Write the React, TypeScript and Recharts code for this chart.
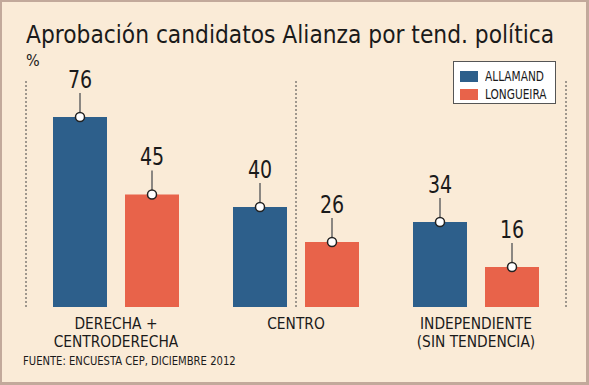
import React from 'react';
import { Bar, BarChart, Legend, ReferenceLine, XAxis, YAxis } from 'recharts';

const categories = ['DERECHA +\nCENTRODERECHA', 'CENTRO', 'INDEPENDIENTE\n(SIN TENDENCIA)'];
const allamand = [76, 40, 34];
const longueira = [45, 26, 16];
const separators = [0, 1, 2, 3];

const data = categories.map((name, i) => ({
  name,
  ALLAMAND: allamand[i],
  LONGUEIRA: longueira[i],
}));

const series = [
  { key: 'ALLAMAND', color: '#2d5f8b' },
  { key: 'LONGUEIRA', color: '#e8634a' },
];

const font = "'DejaVu Sans Condensed', 'DejaVu Sans', sans-serif";
const ink = '#1a1a1a';

// narrow the condensed font a bit more, the original face is tighter
const squeeze = (x: number, y: number, k: number) =>
  `translate(${x},${y}) scale(${k},1) translate(${-x},${-y})`;

const renderValue = (props: any) => {
  const { x, y, width, value } = props;
  const cx = x + width / 2;
  return (
    <g>
      <line x1={cx} y1={y} x2={cx} y2={y - 24} stroke="#666" strokeWidth={1.5} />
      <circle cx={cx} cy={y} r={4.5} fill="#fff" stroke="#222" strokeWidth={1.5} />
      <text
        x={cx}
        y={y - 29}
        textAnchor="middle"
        fontSize={24}
        fontFamily={font}
        fill={ink}
        transform={squeeze(cx, y, 0.88)}
      >
        {value}
      </text>
    </g>
  );
};

const renderTick = (props: any) => {
  const { x, y, payload } = props;
  const lines = String(payload.value).split('\n');
  return (
    <g transform={squeeze(x, y, 0.99)}>
      {lines.map((line, i) => (
        <text
          key={line}
          x={x}
          y={y + 22 + i * 18}
          textAnchor="middle"
          fontSize={15.5}
          fontFamily={font}
          fill={ink}
        >
          {line}
        </text>
      ))}
    </g>
  );
};

const renderLegend = () => (
  <div
    style={{
      width: 103,
      height: 43,
      boxSizing: 'border-box',
      background: '#fff',
      border: '1px solid #555',
      padding: '5px 0 0 6px',
      fontFamily: font,
      fontSize: 14,
      color: ink,
    }}
  >
    {series.map((s) => (
      <div key={s.key} style={{ display: 'flex', alignItems: 'center', height: 18 }}>
        <span style={{ width: 18, height: 11, background: s.color, marginRight: 7, flex: 'none' }} />
        <span style={{ display: 'inline-block', transform: 'scaleX(0.84)', transformOrigin: 'left' }}>
          {s.key}
        </span>
      </div>
    ))}
  </div>
);

export default function App() {
  return (
    <div
      style={{
        position: 'absolute',
        left: 0,
        top: 0,
        width: 589,
        height: 385,
        background: '#faebd7',
        fontFamily: font,
        color: ink,
      }}
    >
      <div
        style={{
          position: 'absolute',
          left: 26,
          top: 21,
          fontSize: 24,
          whiteSpace: 'nowrap',
          transform: 'scaleX(1.01)',
          transformOrigin: 'left',
        }}
      >
        Aprobación candidatos Alianza por tend. política
      </div>
      <div style={{ position: 'absolute', left: 26, top: 51, fontSize: 16 }}>%</div>
      <BarChart
        width={589}
        height={385}
        data={data}
        barSize={54}
        barGap={18}
        margin={{ top: 57, right: 23, bottom: 48, left: 26 }}
      >
        <XAxis
          dataKey="name"
          axisLine={false}
          tickLine={false}
          tickSize={0}
          tickMargin={0}
          height={30}
          interval={0}
          tick={renderTick}
        />
        <XAxis xAxisId="sep" type="number" domain={[0, 3]} hide />
        <YAxis hide domain={[0, 100]} />
        {separators.map((s) => (
          <ReferenceLine
            key={s}
            xAxisId="sep"
            segment={[
              { x: s, y: 0 },
              { x: s, y: 91 },
            ]}
            stroke="#444"
            strokeDasharray="2 2"
          />
        ))}
        {series.map((s) => (
          <Bar
            key={s.key}
            dataKey={s.key}
            fill={s.color}
            isAnimationActive={false}
            label={renderValue}
          />
        ))}
        <Legend
          layout="horizontal"
          verticalAlign="middle"
          content={renderLegend}
          wrapperStyle={{ top: 61, left: 453, width: 103, height: 43 }}
        />
      </BarChart>
      <div
        style={{
          position: 'absolute',
          left: 23,
          top: 354,
          fontSize: 12,
          whiteSpace: 'nowrap',
          transform: 'scaleX(0.93)',
          transformOrigin: 'left',
        }}
      >
        FUENTE: ENCUESTA CEP, DICIEMBRE 2012
      </div>
      <div
        style={{
          position: 'absolute',
          inset: 0,
          borderStyle: 'solid',
          borderColor: '#c2a99b',
          borderWidth: '2px 3px 3px 2px',
          pointerEvents: 'none',
        }}
      />
    </div>
  );
}
